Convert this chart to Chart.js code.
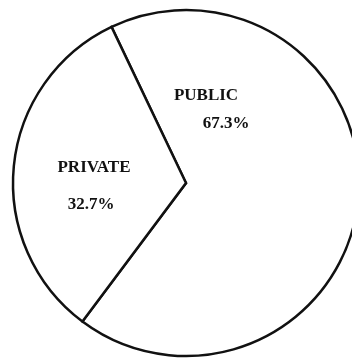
<!DOCTYPE html>
<html>
<head>
<meta charset="utf-8">
<script src="https://cdn.jsdelivr.net/npm/chart.js@4"></script>
<style>
	html, body { margin: 0; padding: 0; background: #fff; }
	#wrap { width: 352px; height: 358px; }
</style>
</head>
<body>
<div id="wrap"><canvas id="pieChart"></canvas></div>
<script>
// sector data
const categories = ['PUBLIC', 'PRIVATE'];
const shares = [67.3, 32.7];
const shareLabels = ['67.3%', '32.7%'];

// text placed inside each slice, offsets from pie centre
const labelSpots = [
	{ name: [20, -87], pct: [40, -59] },
	{ name: [-92, -15], pct: [-95, 22] }
];

const sliceLabels = {
	id: 'sliceLabels',
	afterDatasetsDraw(chart) {
		const ctx = chart.ctx;
		const arc = chart.getDatasetMeta(0).data[0];
		ctx.save();
		ctx.fillStyle = '#111';
		ctx.font = 'bold 17px "Liberation Serif"';
		ctx.textAlign = 'center';
		ctx.textBaseline = 'middle';
		categories.forEach((name, i) => {
			const spot = labelSpots[i];
			ctx.fillText(name, arc.x + spot.name[0], arc.y + spot.name[1]);
			ctx.fillText(shareLabels[i], arc.x + spot.pct[0], arc.y + spot.pct[1]);
		});
		ctx.restore();
	}
};

const ctx = document.getElementById('pieChart').getContext('2d');
new Chart(ctx, {
	type: 'pie',
	data: {
		labels: categories,
		datasets: [{
			data: shares,
			backgroundColor: '#fff',
			borderColor: '#111',
			borderWidth: 2.5,
			borderJoinStyle: 'miter'
		}]
	},
	options: {
		responsive: true,
		maintainAspectRatio: false,
		animation: false,
		rotation: -25.5,
		radius: 173,
		layout: { padding: { left: 20, right: 0, top: 8, bottom: 0 } },
		plugins: {
			legend: { display: false },
			tooltip: { enabled: false }
		}
	},
	plugins: [sliceLabels]
});
</script>
</body>
</html>
